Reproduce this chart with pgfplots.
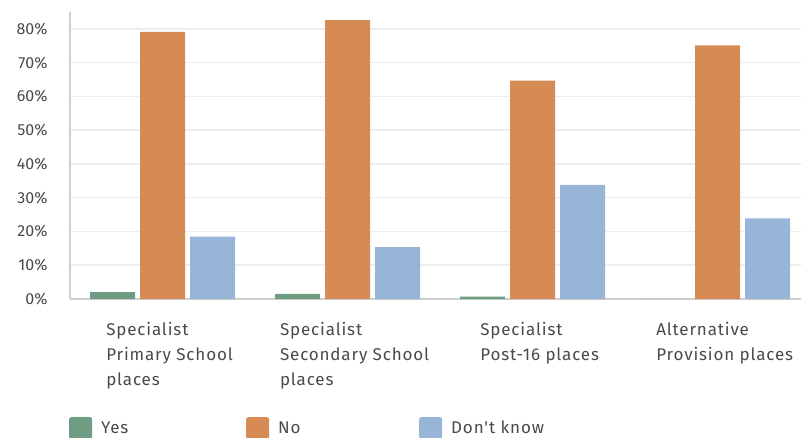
\documentclass[border=0pt]{standalone}
\usepackage{pgfplots}
\pgfplotsset{compat=1.18}
\usepackage{fontspec}
\setmainfont{Fira Sans}
\newfontfamily\lab{Fira Sans}[LetterSpace=5]
\definecolor{cyes}{HTML}{6F9D84}
\definecolor{cno}{HTML}{D58B53}
\definecolor{cdk}{HTML}{98B5D8}
\definecolor{ctxt}{HTML}{4A4A4A}
\definecolor{cgrid}{HTML}{EDEDED}
\definecolor{caxis}{HTML}{CFCFCF}
\begin{document}
\begin{tikzpicture}
\begin{axis}[
  at={(0,0)}, anchor=south west,
  scale only axis, width=731bp, height=287bp,
  xmin=-0.5, xmax=3.45, ymin=0, ymax=85,
  ybar=5bp, bar width=45bp,
  axis lines*=left,
  axis line style={-, draw=caxis, line width=1.2bp},
  major tick length=0pt,
  ytick={0,10,20,30,40,50,60,70,80},
  yticklabels={0\%,10\%,20\%,30\%,40\%,50\%,60\%,70\%,80\%},
  ymajorgrids, grid style={draw=cgrid, line width=1.5bp},
  xtick={0,1,2,3},
  xticklabels={Specialist\\Primary School\\places, Specialist\\Secondary School\\places, Specialist\\Post-16 places, Alternative\\Provision places},
  xticklabel style={align=left, anchor=north, xshift=7bp, yshift=-20bp, text=ctxt, font=\lab\fontsize{17bp}{25bp}\selectfont},
  yticklabel style={anchor=east, xshift=-19bp, text=ctxt, font=\fontsize{16bp}{19bp}\selectfont},
  /pgf/number format/assume math mode=true,
  legend columns=3,
  legend style={at={(rel axis cs:0,0)}, anchor=west, xshift=-4bp, yshift=-129bp, draw=none, fill=none, text=ctxt, font=\lab\fontsize{17bp}{20bp}\selectfont, nodes={inner sep=0pt}, /tikz/every even column/.append style={column sep=0bp}},
  legend image code/.code={\fill[#1, draw=none, rounded corners=2.5bp] (0bp,-11bp) rectangle (23bp,11bp);},
  every axis plot/.append style={draw=none},
]
\addplot[fill=cyes] coordinates {(0,2.0) (1,1.5) (2,0.7) (3,0)};
\addlegendentry{\makebox[154bp][l]{\hspace*{9bp}Yes}}
\addplot[fill=cno] coordinates {(0,79.1) (1,82.6) (2,64.7) (3,75.1)};
\addlegendentry{\makebox[150bp][l]{\hspace*{9bp}No}}
\addplot[fill=cdk] coordinates {(0,18.5) (1,15.4) (2,33.8) (3,23.9)};
\addlegendentry{\makebox[150bp][l]{\hspace*{9bp}Don't know}}
\end{axis}
\pgfresetboundingbox
\path[use as bounding box] (-70bp,-139bp) rectangle (731bp,299bp);
\end{tikzpicture}
\end{document}
